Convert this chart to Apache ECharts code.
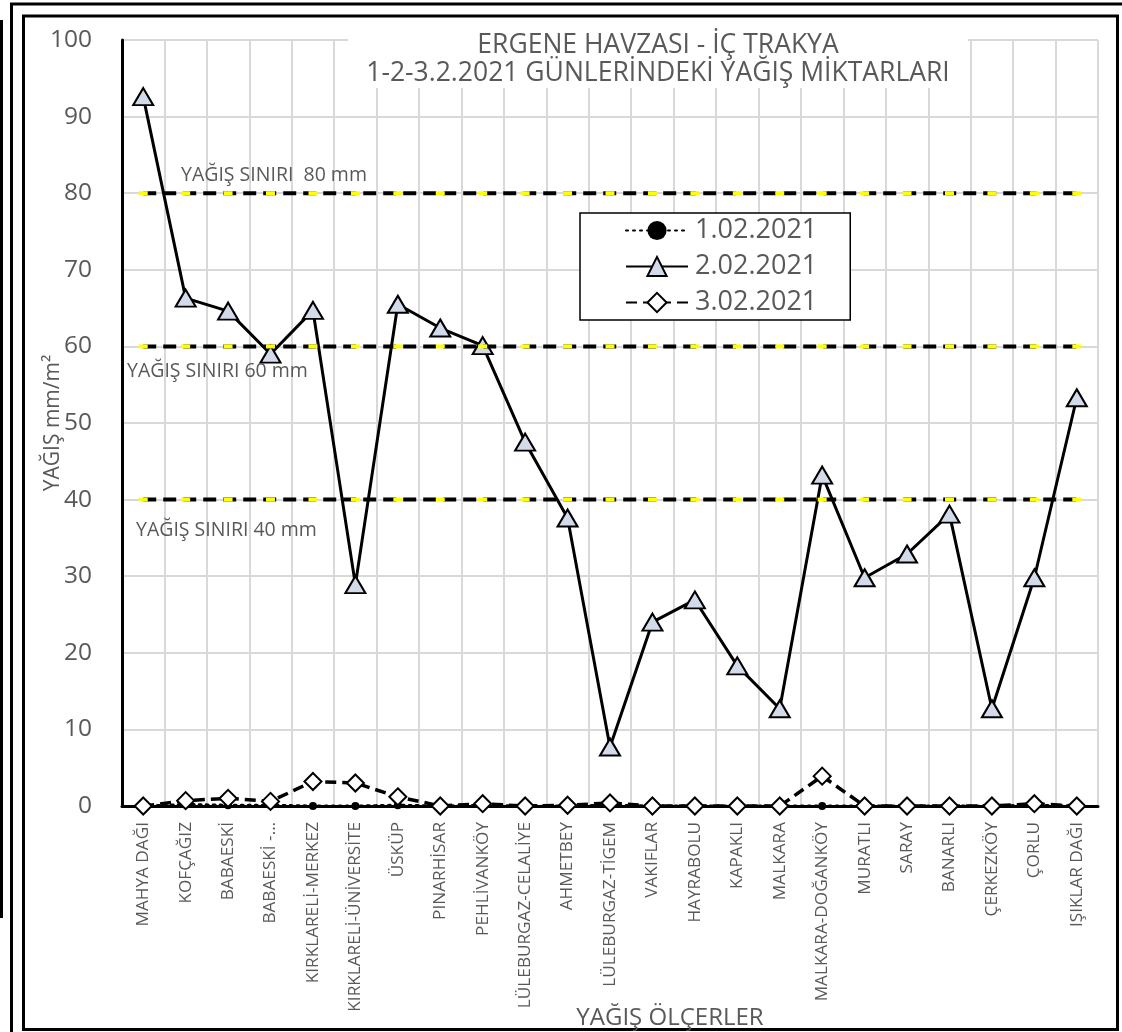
<!DOCTYPE html>
<html>
<head>
<meta charset="utf-8">
<script src="https://cdn.jsdelivr.net/npm/echarts@6/dist/echarts.min.js"></script>
<style>
  html, body { margin: 0; padding: 0; background: #ffffff; }
  #chart { width: 1122px; height: 1032px; }
</style>
</head>
<body>
<div id="chart"></div>
<script>
// Rain gauge stations of the Ergene basin
const stations = [
  'MAHYA DAĞI', 'KOFÇAĞIZ', 'BABAESKİ', 'BABAESKİ -…', 'KIRKLARELİ-MERKEZ',
  'KIRKLARELİ-ÜNİVERSİTE', 'ÜSKÜP', 'PINARHİSAR', 'PEHLİVANKÖY', 'LÜLEBURGAZ-CELALİYE',
  'AHMETBEY', 'LÜLEBURGAZ-TİGEM', 'VAKIFLAR', 'HAYRABOLU', 'KAPAKLI', 'MALKARA',
  'MALKARA-DOĞANKÖY', 'MURATLI', 'SARAY', 'BANARLI', 'ÇERKEZKÖY', 'ÇORLU', 'IŞIKLAR DAĞI'
];

// Daily rainfall, mm/m²
const rain0102 = [0, 0.2, 0.1, 0.1, 0, 0, 0.1, 0, 0.1, 0, 0, 0.1, 0, 0, 0, 0, 0, 0, 0, 0, 0, 0.1, 0];
const rain0202 = [92.6, 66.3, 64.6, 59.0, 64.7, 28.9, 65.5, 62.4, 60.1, 47.5, 37.6, 7.7,
                  24.0, 26.9, 18.3, 12.7, 43.2, 29.8, 32.9, 38.1, 12.7, 29.8, 53.3];
const rain0302 = [0, 0.7, 1.0, 0.6, 3.2, 3.0, 1.2, 0, 0.3, 0, 0.1, 0.4,
                  0, 0, 0, 0, 3.9, 0, 0, 0, 0, 0.3, 0];

const seriesNames = ['1.02.2021', '2.02.2021', '3.02.2021'];

// Rainfall thresholds
const limits = [80, 60, 40];
const limitLabels = ['YAĞIŞ SINIRI  80 mm', 'YAĞIŞ SINIRI 60 mm', 'YAĞIŞ SINIRI 40 mm'];

const titleLines = ['ERGENE HAVZASI - İÇ TRAKYA', '1-2-3.2.2021 GÜNLERİNDEKİ YAĞIŞ MİKTARLARI'];
const xAxisTitle = 'YAĞIŞ ÖLÇERLER';
const yAxisTitle = 'YAĞIŞ mm/m²';

const FONT = 'Open Sans';
const GREY = '#595959';

const chart = echarts.init(document.getElementById('chart'), null, { renderer: 'canvas' });

const limitSeries = limits.map(function (v) {
  return {
    name: 'limit' + v,
    type: 'line',
    data: stations.map(function () { return v; }),
    symbol: 'rect',
    symbolSize: [9, 4],
    showSymbol: true,
    itemStyle: { color: '#FFFF00', borderWidth: 0 },
    lineStyle: { color: '#000000', width: 4, type: [13, 7] },
    silent: true,
    z: 3
  };
});

// threshold label positions (pixel, on the plot)
const limitLabelPos = [[181, 175], [127, 371], [136, 530]];

const option = {
  backgroundColor: '#ffffff',
  animation: false,
  textStyle: { fontFamily: FONT },
  title: {
    text: titleLines.join('\n'),
    left: 640,
    top: 27,
    textAlign: 'center',
    backgroundColor: '#ffffff',
    padding: [4, 18, 1, 18],
    textStyle: { fontFamily: FONT, fontSize: 26.5, fontWeight: 'normal', color: GREY, lineHeight: 28 }
  },
  legend: {
    data: seriesNames,
    orient: 'vertical',
    left: 580,
    top: 213,
    backgroundColor: '#ffffff',
    borderColor: '#000000',
    borderWidth: 1.5,
    borderRadius: 0,
    padding: [4, 33, 4, 45],
    itemWidth: 62,
    itemHeight: 24,
    itemGap: 9,
    textStyle: { fontFamily: FONT, fontSize: 27, color: GREY, lineHeight: 24, padding: [0, 0, 0, 2] }
  },
  grid: { left: 122, right: 24, top: 40, bottom: 226, containLabel: false, outerBoundsMode: 'none' },
  xAxis: {
    type: 'category',
    data: stations,
    boundaryGap: true,
    name: xAxisTitle,
    nameLocation: 'middle',
    nameGap: 200,
    nameMoveOverlap: false,
    nameTextStyle: { fontFamily: FONT, fontSize: 24, color: GREY, padding: [0, 0, 0, 120] },
    axisLine: { show: true, lineStyle: { color: '#000000', width: 3 } },
    axisTick: { show: false },
    axisLabel: { interval: 0, rotate: 90, margin: 16, fontFamily: FONT, fontSize: 17.2, color: GREY },
    splitLine: { show: true, interval: 0, lineStyle: { color: '#D9D9D9', width: 2 } }
  },
  yAxis: {
    type: 'value',
    min: 0,
    max: 100,
    interval: 10,
    name: yAxisTitle,
    nameLocation: 'middle',
    nameGap: 58,
    nameMoveOverlap: false,
    nameRotate: 90,
    nameTextStyle: { fontFamily: FONT, fontSize: 21, color: GREY },
    axisLine: { show: true, lineStyle: { color: '#000000', width: 3 } },
    axisTick: { show: false },
    axisLabel: { margin: 30, fontFamily: FONT, fontSize: 24.5, color: GREY },
    splitLine: { show: true, lineStyle: { color: '#D9D9D9', width: 2 } }
  },
  series: [
    {
      name: seriesNames[0],
      type: 'line',
      data: rain0102,
      symbol: 'circle',
      symbolSize: 8,
      itemStyle: { color: '#000000', borderColor: '#000000', borderWidth: 0 },
      lineStyle: { color: '#000000', width: 3, type: [2, 5], cap: 'round' },
      z: 4
    },
    {
      name: seriesNames[1],
      type: 'line',
      data: rain0202,
      symbol: 'triangle',
      symbolSize: [20, 17],
      itemStyle: { color: '#D3DBEA', borderColor: '#000000', borderWidth: 2 },
      lineStyle: { color: '#000000', width: 3 },
      z: 2
    },
    {
      name: seriesNames[2],
      type: 'line',
      data: rain0302,
      symbol: 'diamond',
      symbolSize: 17,
      itemStyle: { color: '#ffffff', borderColor: '#000000', borderWidth: 2 },
      lineStyle: { color: '#000000', width: 3.5, type: [11, 6] },
      z: 5
    }
  ].concat(limitSeries),
  graphic: {
    elements: [
      // page frames
      { type: 'line', silent: true, shape: { x1: 1.5, y1: 20, x2: 1.5, y2: 918 }, style: { stroke: '#000', lineWidth: 3 } },
      { type: 'polyline', silent: true, shape: { points: [[11.5, 1032], [11.5, 4], [1122, 4]] }, style: { stroke: '#000', lineWidth: 3, fill: null } },
      { type: 'rect', silent: true, shape: { x: 23.5, y: 16, width: 1094, height: 1013.5 }, style: { stroke: '#000', lineWidth: 3, fill: null } }
    ].concat(limitLabels.map(function (t, i) {
      return {
        type: 'text',
        silent: true,
        x: limitLabelPos[i][0],
        y: limitLabelPos[i][1],
        z: 10,
        style: { text: t, fontFamily: FONT, fontSize: 19.5, fill: GREY, verticalAlign: 'middle', align: 'left' }
      };
    }))
  }
};

chart.setOption(option);
</script>
</body>
</html>
